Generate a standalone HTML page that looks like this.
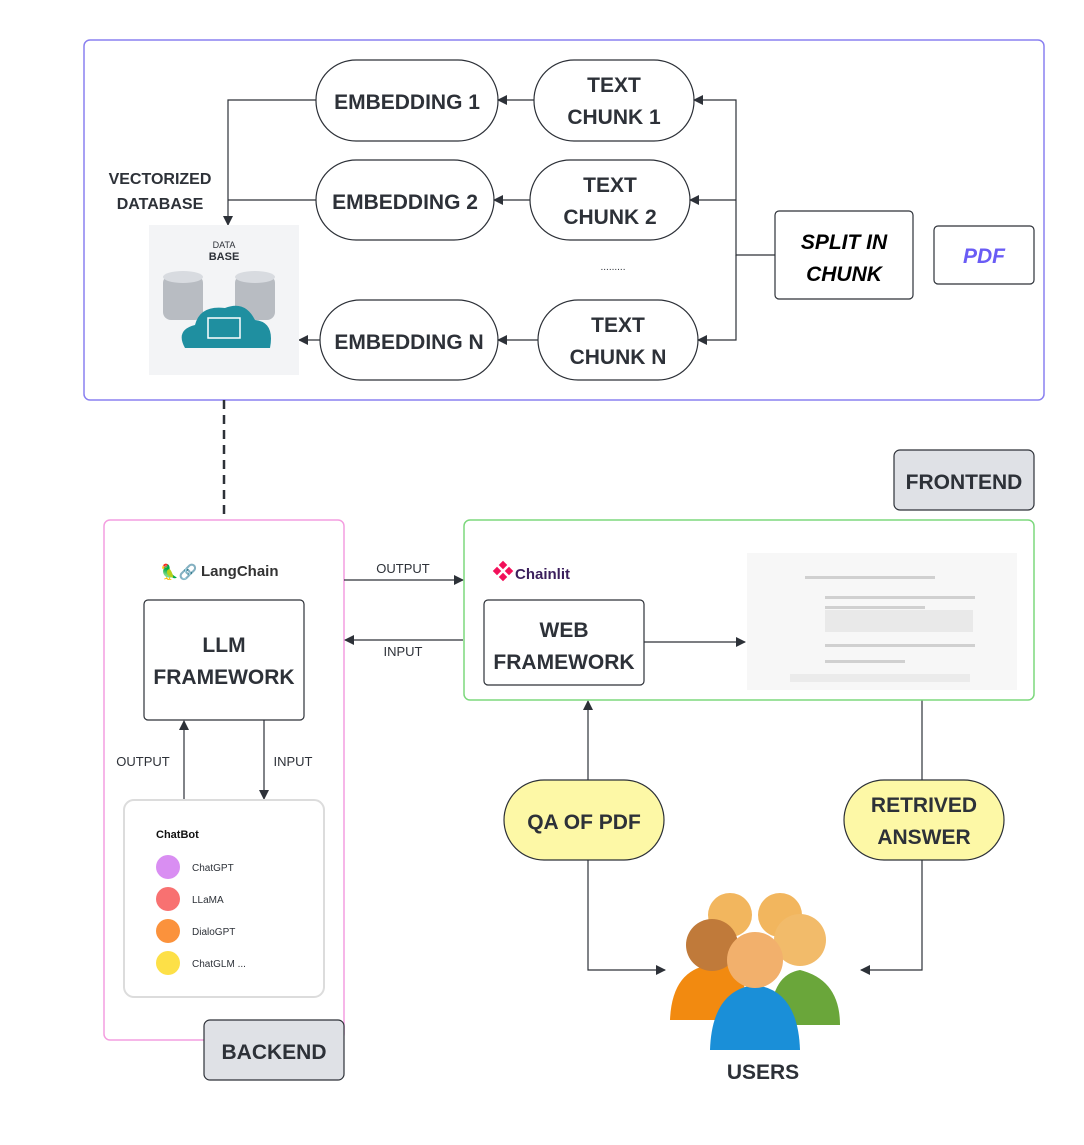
<!DOCTYPE html>
<html><head><meta charset="utf-8"><style>
body{margin:0;background:#fff}
svg text{font-family:"Liberation Sans",sans-serif;fill:#2d3138}
</style></head><body>
<svg width="1084" height="1140" viewBox="0 0 1084 1140" xmlns="http://www.w3.org/2000/svg">
<defs>
<marker id="a" markerWidth="10" markerHeight="10" refX="9" refY="5" orient="auto" markerUnits="userSpaceOnUse"><path d="M0,0 L10,5 L0,10 z" fill="#2d3138"/></marker>
</defs>
<rect x="84" y="40" width="960" height="360" rx="6" fill="none" stroke="#8a80f0" stroke-width="1.5"/>
<g fill="#fff" stroke="#2d3138" stroke-width="1.2">
<rect x="316" y="60" width="182" height="81" rx="40"/>
<rect x="534" y="60" width="160" height="81" rx="40"/>
<rect x="316" y="160" width="178" height="80" rx="40"/>
<rect x="530" y="160" width="160" height="80" rx="40"/>
<rect x="320" y="300" width="178" height="80" rx="40"/>
<rect x="538" y="300" width="160" height="80" rx="40"/>
<rect x="775" y="211" width="138" height="88" rx="4"/>
<rect x="934" y="226" width="100" height="58" rx="4"/>
</g>
<g font-size="21" text-anchor="middle" font-weight="bold">
<text x="407" y="109">EMBEDDING 1</text>
<text x="614" y="92">TEXT</text><text x="614" y="124">CHUNK 1</text>
<text x="405" y="209">EMBEDDING 2</text>
<text x="610" y="192">TEXT</text><text x="610" y="224">CHUNK 2</text>
<text x="409" y="349">EMBEDDING N</text>
<text x="618" y="332">TEXT</text><text x="618" y="364">CHUNK N</text>
<text x="844" y="249" font-style="italic" style="fill:#000">SPLIT IN</text>
<text x="844" y="281" font-style="italic" style="fill:#000">CHUNK</text>
<text x="984" y="263" font-style="italic" style="fill:#6a5cf5">PDF</text>
</g>
<text x="613" y="270" font-size="10" text-anchor="middle">.........</text>
<g fill="none" stroke="#2d3138" stroke-width="1.2">
<path d="M775 255 H736 V100 H694" marker-end="url(#a)"/>
<path d="M736 200 H690" marker-end="url(#a)"/>
<path d="M736 255 V340 H698" marker-end="url(#a)"/>
<path d="M534 100 H498" marker-end="url(#a)"/>
<path d="M530 200 H494" marker-end="url(#a)"/>
<path d="M538 340 H498" marker-end="url(#a)"/>
<path d="M316 100 H228 V225" marker-end="url(#a)"/>
<path d="M316 200 H228"/>
<path d="M320 340 H299" marker-end="url(#a)"/>
</g>
<g font-size="16" text-anchor="middle" font-weight="bold"><text x="160" y="184">VECTORIZED</text><text x="160" y="209">DATABASE</text></g>
<rect x="149" y="225" width="150" height="150" fill="#f3f4f6"/>
<text x="224" y="248" font-size="9" text-anchor="middle">DATA</text>
<text x="224" y="260" font-size="11" font-weight="bold" text-anchor="middle">BASE</text>
<g fill="#b8bcc2"><rect x="163" y="275" width="40" height="45" rx="8"/><rect x="235" y="275" width="40" height="45" rx="8"/></g>
<ellipse cx="183" cy="277" rx="20" ry="6" fill="#d8dbe0"/><ellipse cx="255" cy="277" rx="20" ry="6" fill="#d8dbe0"/>
<path d="M185 348 Q175 330 195 325 Q200 305 225 308 Q245 300 255 320 Q275 322 270 348 z" fill="#1f8fa0"/>
<rect x="208" y="318" width="32" height="20" fill="none" stroke="#fff" stroke-width="1.5"/>
<line x1="224" y1="400" x2="224" y2="520" stroke="#2d3138" stroke-width="2.5" stroke-dasharray="9,6"/>
<rect x="894" y="450" width="140" height="60" rx="6" fill="#dfe1e6" stroke="#2d3138" stroke-width="1.2"/>
<text x="964" y="489" font-size="21" font-weight="bold" text-anchor="middle">FRONTEND</text>
<rect x="104" y="520" width="240" height="520" rx="6" fill="none" stroke="#f49ee0" stroke-width="1.5"/>
<text x="160" y="577" font-size="15">🦜🔗</text><text x="201" y="576" font-size="15" font-weight="bold" style="fill:#333">LangChain</text>
<rect x="144" y="600" width="160" height="120" rx="4" fill="#fff" stroke="#2d3138" stroke-width="1.2"/>
<g font-size="21" font-weight="bold" text-anchor="middle"><text x="224" y="652">LLM</text><text x="224" y="684">FRAMEWORK</text></g>
<g fill="none" stroke="#2d3138" stroke-width="1.2">
<path d="M344 580 H463" marker-end="url(#a)"/>
<path d="M463 640 H345" marker-end="url(#a)"/>
<path d="M184 800 V721" marker-end="url(#a)"/>
<path d="M264 720 V799" marker-end="url(#a)"/>
<path d="M644 642 H745" marker-end="url(#a)"/>
<path d="M588 780 V701" marker-end="url(#a)"/>
<path d="M922 700 V780"/>
<path d="M588 860 V970 H665" marker-end="url(#a)"/>
<path d="M922 860 V970 H861" marker-end="url(#a)"/>
</g>
<g font-size="13" text-anchor="middle"><text x="403" y="573">OUTPUT</text><text x="403" y="656">INPUT</text><text x="143" y="766">OUTPUT</text><text x="293" y="766">INPUT</text></g>
<rect x="464" y="520" width="570" height="180" rx="6" fill="none" stroke="#7dd87d" stroke-width="1.5"/>
<g fill="#f2105a"><rect x="494" y="568" width="6" height="6" transform="rotate(45 497 571)"/><rect x="500" y="562" width="6" height="6" transform="rotate(45 503 565)"/><rect x="506" y="568" width="6" height="6" transform="rotate(45 509 571)"/><rect x="500" y="574" width="6" height="6" transform="rotate(45 503 577)"/></g>
<text x="515" y="579" font-size="15" font-weight="bold" style="fill:#3b1f5c">Chainlit</text>
<rect x="484" y="600" width="160" height="85" rx="4" fill="#fff" stroke="#2d3138" stroke-width="1.2"/>
<g font-size="21" font-weight="bold" text-anchor="middle"><text x="564" y="637">WEB</text><text x="564" y="669">FRAMEWORK</text></g>
<rect x="747" y="553" width="270" height="137" fill="#f7f7f7"/>
<g fill="#d0d0d0"><rect x="805" y="576" width="130" height="3"/><rect x="825" y="596" width="150" height="3"/><rect x="825" y="606" width="100" height="3"/><rect x="825" y="610" width="148" height="22" fill="#e9e9e9"/><rect x="825" y="644" width="150" height="3"/><rect x="825" y="660" width="80" height="3"/><rect x="790" y="674" width="180" height="8" fill="#ebebeb"/></g>
<rect x="504" y="780" width="160" height="80" rx="40" fill="#fdf8a6" stroke="#2d3138" stroke-width="1.2"/>
<rect x="844" y="780" width="160" height="80" rx="40" fill="#fdf8a6" stroke="#2d3138" stroke-width="1.2"/>
<g font-size="21" font-weight="bold" text-anchor="middle"><text x="584" y="829">QA OF PDF</text><text x="924" y="812">RETRIVED</text><text x="924" y="844">ANSWER</text></g>
<rect x="124" y="800" width="200" height="197" rx="10" fill="#fff" stroke="#dcdcdc" stroke-width="2"/>
<text x="156" y="838" font-size="11" font-weight="bold" style="fill:#111">ChatBot</text>
<g font-size="10" style="fill:#111"><circle cx="168" cy="867" r="12" fill="#d98ef2"/><text x="192" y="871">ChatGPT</text>
<circle cx="168" cy="899" r="12" fill="#f87171"/><text x="192" y="903">LLaMA</text>
<circle cx="168" cy="931" r="12" fill="#fb923c"/><text x="192" y="935">DialoGPT</text>
<circle cx="168" cy="963" r="12" fill="#fde047"/><text x="192" y="967">ChatGLM ...</text></g>
<rect x="204" y="1020" width="140" height="60" rx="6" fill="#dfe1e6" stroke="#2d3138" stroke-width="1.2"/>
<text x="274" y="1059" font-size="21" font-weight="bold" text-anchor="middle">BACKEND</text>
<g>
<circle cx="730" cy="915" r="22" fill="#f2b65e"/><circle cx="780" cy="915" r="22" fill="#f2b65e"/>
<path d="M670 1020 Q672 970 710 965 L730 965 Q750 975 745 1020z" fill="#f28a10"/>
<circle cx="712" cy="945" r="26" fill="#c07a3a"/>
<path d="M770 1025 Q770 975 800 970 Q840 980 840 1025z" fill="#6aa63a"/>
<circle cx="800" cy="940" r="26" fill="#f2bb6a"/>
<path d="M710 1050 Q712 990 755 985 Q798 990 800 1050z" fill="#1a8fd8"/>
<circle cx="755" cy="960" r="28" fill="#f2b06c"/>
</g>
<text x="763" y="1079" font-size="21" font-weight="bold" text-anchor="middle">USERS</text>
</svg>
</body></html>
